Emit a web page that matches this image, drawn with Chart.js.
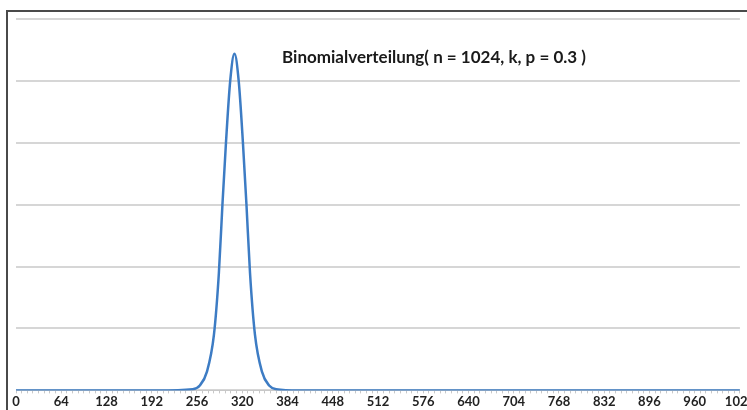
<!DOCTYPE html>
<html lang="de">
<head>
    <meta charset="UTF-8">
    <title>Binomialverteilung</title>
    <script src="https://cdn.jsdelivr.net/npm/chart.js"></script>
    <style>
        html, body {
            margin: 0;
            padding: 0;
            background: #fff;
            overflow: hidden;
            width: 747px;
            height: 410px;
        }
        .frame {
            position: absolute;
            left: 6px;
            top: 10px;
            width: 760px;
            height: 420px;
            border-left: 2px solid #4a4a4a;
            border-top: 2px solid #4a4a4a;
        }
        .chart-box {
            position: absolute;
            left: 0;
            top: 0;
            width: 748px;
            height: 399px;
        }
    </style>
</head>
<body>
    <div class="frame">
        <div class="chart-box">
            <canvas id="binomChart"></canvas>
        </div>
    </div>

    <script>
        // values (k, probability)
        const kValues = [0, 200, 250, 260, 270, 280, 287, 292, 297, 303, 309, 315, 321, 326, 331, 338, 348, 358, 368, 400, 1024];
        const probValues = [0, 0, 0.0001, 0.0004, 0.0015, 0.0045, 0.0095, 0.015, 0.02, 0.025, 0.0272, 0.025, 0.02, 0.015, 0.0095, 0.0045, 0.0015, 0.0004, 0.0001, 0, 0];
        const xTickLabels = [0, 64, 128, 192, 256, 320, 384, 448, 512, 576, 640, 704, 768, 832, 896, 960, 1024];
        const titleText = 'Binomialverteilung( n = 1024, k, p = 0.3 )';

        const points = kValues.map((k, i) => ({ x: k, y: probValues[i] }));

        const innerTitle = {
            id: 'innerTitle',
            afterDraw(chart) {
                const ctx = chart.ctx;
                ctx.save();
                ctx.font = 'bold 17px Lato';
                ctx.fillStyle = '#1a1a1a';
                ctx.textAlign = 'center';
                ctx.textBaseline = 'middle';
                ctx.fillText(titleText, 426, 46);
                ctx.restore();
            }
        };

        new Chart(document.getElementById('binomChart'), {
            type: 'line',
            data: {
                datasets: [{
                    data: points,
                    borderColor: '#3d7cc4',
                    borderWidth: 2.5,
                    pointRadius: 0,
                    cubicInterpolationMode: 'monotone',
                    fill: false
                }]
            },
            options: {
                responsive: true,
                maintainAspectRatio: false,
                animation: false,
                layout: { padding: { left: 8, top: 7, right: 0, bottom: 0 } },
                plugins: {
                    legend: { display: false },
                    tooltip: { enabled: false }
                },
                scales: {
                    x: {
                        type: 'linear',
                        min: 0,
                        max: 1024,
                        afterBuildTicks(scale) {
                            const t = [];
                            for (let v = 0; v <= 1024; v += 8) t.push({ value: v });
                            scale.ticks = t;
                        },
                        ticks: {
                            autoSkip: false,
                            maxRotation: 0,
                            padding: 1,
                            color: '#222',
                            font: { family: 'Lato', weight: 'bold', size: 13 },
                            callback: v => xTickLabels.includes(v) ? String(v) : ''
                        },
                        grid: {
                            drawOnChartArea: false,
                            tickLength: 3,
                            color: '#c8c8c8'
                        },
                        border: { color: '#c8c8c8', width: 1 }
                    },
                    y: {
                        min: 0,
                        max: 0.03,
                        ticks: { display: false, stepSize: 0.005 },
                        grid: {
                            drawTicks: false,
                            color: '#d6d6d6',
                            lineWidth: 2
                        },
                        border: { display: false }
                    }
                }
            },
            plugins: [innerTitle]
        });
    </script>
</body>
</html>
